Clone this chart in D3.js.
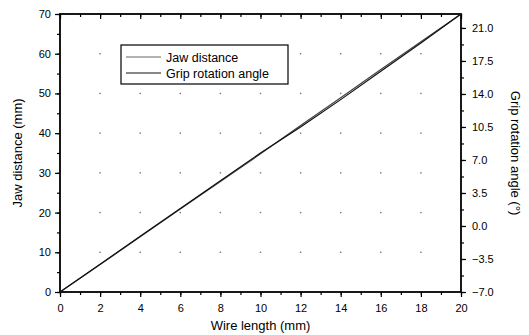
<!DOCTYPE html>
<html>
<head>
<meta charset="utf-8">
<script src="https://cdn.jsdelivr.net/npm/d3@7"></script>
<style>
body { margin: 0; background: #fff; }
text { font-family: "Liberation Sans", Arial, sans-serif; fill: #000; }
</style>
</head>
<body>
<div id="chart"></div>
<script>
// ---------------------- data ----------------------
var wireLength = [0, 2, 4, 6, 8, 10, 12, 14, 16, 18, 20];
var jawDistance = [0, 6.9, 13.9, 20.9, 27.8, 34.8, 41.9, 48.9, 56.0, 63.0, 70.0];
var gripAngle = [-7.0, -4.05, -1.1, 1.85, 4.79, 7.74, 10.5, 13.4, 16.4, 19.4, 22.48];
var xTicks = [0, 2, 4, 6, 8, 10, 12, 14, 16, 18, 20];
var leftTicks = [0, 10, 20, 30, 40, 50, 60, 70];
var rightTicks = [-7.0, -3.5, 0.0, 3.5, 7.0, 10.5, 14.0, 17.5, 21.0];
var seriesNames = ["Jaw distance", "Grip rotation angle"];

// ---------------------- layout ----------------------
var W = 529, H = 335;
var L = 60, R = 461, T = 14, B = 292;

var svg = d3.select("#chart")
     .append("svg")
     .attr("width", W)
     .attr("height", H);

var x = d3.scaleLinear().domain([0, 20]).range([L, R]);
var yL = d3.scaleLinear().domain([0, 70]).range([B, T]);
var yR = d3.scaleLinear().domain([-7, 22.48]).range([B, T]);

// grid dots at major intersections
var dots = [];
xTicks.slice(1, -1).forEach(function (a) {
     leftTicks.slice(1, -1).forEach(function (b) { dots.push([a, b]); });
});
svg.selectAll("rect.dot").data(dots).enter()
     .append("rect").attr("class", "dot")
     .attr("x", function (d) { return x(d[0]) - 0.7; })
     .attr("y", function (d) { return yL(d[1]) - 0.7; })
     .attr("width", 1.4).attr("height", 1.4)
     .attr("fill", "#777");

// ---------------------- axes ----------------------
var fmt1 = d3.format(".1f");
var minorX = d3.range(0, 21, 1);
var minorL = d3.range(0, 71, 5);
var minorR = d3.range(-7, 22.4, 1.75);

svg.append("g").attr("transform", "translate(0," + B + ")")
     .call(d3.axisBottom(x).tickValues(minorX).tickSize(3).tickFormat(""));
svg.append("g").attr("transform", "translate(0," + B + ")")
     .call(d3.axisBottom(x).tickValues(xTicks).tickSize(5).tickPadding(7).tickFormat(d3.format("d")));

svg.append("g").attr("transform", "translate(0," + T + ")")
     .call(d3.axisBottom(x).tickValues(minorX).tickSize(3).tickFormat(""));
svg.append("g").attr("transform", "translate(0," + T + ")")
     .call(d3.axisBottom(x).tickValues(xTicks).tickSize(5).tickFormat(""));

svg.append("g").attr("transform", "translate(" + L + ",0)")
     .call(d3.axisLeft(yL).tickValues(minorL).tickSize(3).tickFormat(""));
svg.append("g").attr("transform", "translate(" + L + ",0)")
     .call(d3.axisLeft(yL).tickValues(leftTicks).tickSize(5).tickPadding(4).tickFormat(d3.format("d")));

svg.append("g").attr("transform", "translate(" + R + ",0)")
     .call(d3.axisRight(yR).tickValues(minorR).tickSize(3).tickFormat(""));
svg.append("g").attr("transform", "translate(" + R + ",0)")
     .call(d3.axisRight(yR).tickValues(rightTicks).tickSize(5).tickPadding(6).tickFormat(fmt1));

svg.selectAll(".domain").remove();
svg.selectAll(".tick line").attr("stroke", "#000").attr("stroke-width", 1.2);
svg.selectAll(".tick text").style("font-size", "11px").attr("fill", "#000");

// frame
svg.append("rect")
     .attr("x", L).attr("y", T)
     .attr("width", R - L).attr("height", B - T)
     .attr("fill", "none").attr("stroke", "#000").attr("stroke-width", 1.8);

// ---------------------- lines ----------------------
var jawLine = d3.line()
     .x(function (d, i) { return x(wireLength[i]); })
     .y(function (d) { return yL(d); });
var gripLine = d3.line()
     .x(function (d, i) { return x(wireLength[i]); })
     .y(function (d) { return yR(d); });

svg.append("path").datum(jawDistance)
     .attr("d", jawLine).attr("fill", "none")
     .attr("stroke", "#444").attr("stroke-width", 1.2);
svg.append("path").datum(gripAngle)
     .attr("d", gripLine).attr("fill", "none")
     .attr("stroke", "#111").attr("stroke-width", 1.2);

// ---------------------- titles ----------------------
svg.append("text").text("Wire length (mm)")
     .attr("x", (L + R) / 2).attr("y", 330)
     .attr("text-anchor", "middle").style("font-size", "13px");

svg.append("text").text("Jaw distance (mm)")
     .attr("transform", "translate(22," + ((T + B) / 2) + ") rotate(-90)")
     .attr("text-anchor", "middle").style("font-size", "13px");

svg.append("text").text("Grip rotation angle (\u00b0)")
     .attr("transform", "translate(511," + ((T + B) / 2) + ") rotate(90)")
     .attr("text-anchor", "middle").style("font-size", "13px");

// ---------------------- legend ----------------------
var lg = svg.append("g").attr("transform", "translate(121,45)");
lg.append("rect").attr("width", 167).attr("height", 39)
     .attr("fill", "#fff").attr("stroke", "#000").attr("stroke-width", 1.2);
var item = lg.selectAll("g.item").data(seriesNames).enter()
     .append("g").attr("class", "item")
     .attr("transform", function (d, i) { return "translate(0," + (12 + i * 16) + ")"; });
item.append("line").attr("x1", 5).attr("x2", 40).attr("y1", 0).attr("y2", 0)
     .attr("stroke", function (d, i) { return i ? "#111" : "#666"; })
     .attr("stroke-width", 1);
item.append("text").text(function (d) { return d; })
     .attr("x", 45).attr("y", 4.5).style("font-size", "12.5px");
</script>
</body>
</html>
